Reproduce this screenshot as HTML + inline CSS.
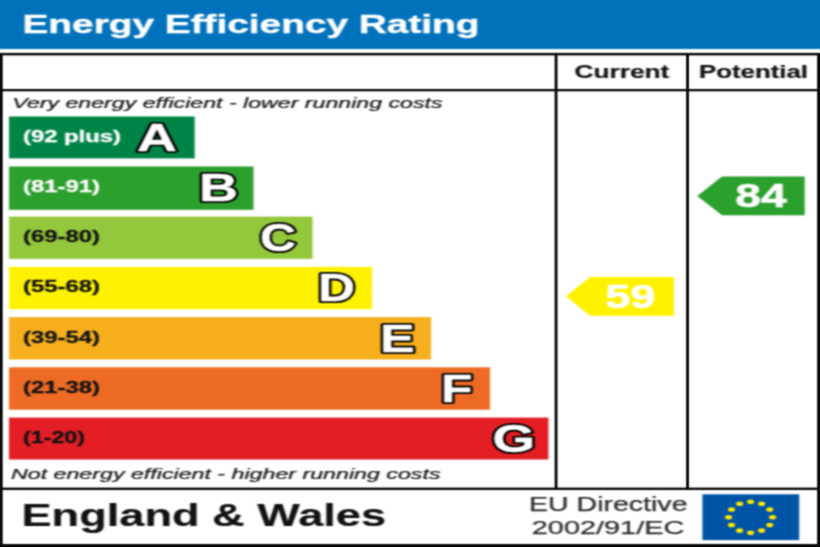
<!DOCTYPE html>
<html><head><meta charset="utf-8">
<style>
html,body{margin:0;padding:0;background:#fff;}
svg{display:block;}
text{font-family:"Liberation Sans",sans-serif;}
.b{font-weight:bold;}
.i{font-style:italic;}
</style></head>
<body>
<svg width="820" height="547" viewBox="0 0 820 547">
<defs><filter id="bl" filterUnits="userSpaceOnUse" x="-20" y="-20" width="860" height="587" color-interpolation-filters="sRGB"><feConvolveMatrix order="5 3" kernelMatrix="1 4 6 4 1 2 8 12 8 2 1 4 6 4 1" divisor="64" edgeMode="duplicate" preserveAlpha="true"/></filter><filter id="bl2" filterUnits="userSpaceOnUse" x="-20" y="-20" width="860" height="587" color-interpolation-filters="sRGB"><feConvolveMatrix order="3 3" kernelMatrix="1 2 1 2 6 2 1 2 1" divisor="18" edgeMode="duplicate" preserveAlpha="false"/></filter></defs>
<g filter="url(#bl)">
<rect x="-20" y="-20" width="860" height="587" fill="#fff"/>
<!-- header -->
<rect x="-20" y="-20" width="860" height="69" fill="#0072bc"/>
<text class="b" x="22.5" y="33.3" font-size="26.5" fill="#fff" stroke="#fff" stroke-width="0.4" textLength="457" lengthAdjust="spacingAndGlyphs">Energy Efficiency Rating</text>
<!-- col headers -->
<text class="b" x="574.4" y="77.8" font-size="17.5" fill="#111" stroke="#111" stroke-width="0.2" textLength="95" lengthAdjust="spacingAndGlyphs">Current</text>
<text class="b" x="699" y="77.8" font-size="17.5" fill="#111" stroke="#111" stroke-width="0.2" textLength="109" lengthAdjust="spacingAndGlyphs">Potential</text>
<!-- captions -->
<text class="i" x="12.3" y="107.5" font-size="14.1" fill="#111" stroke="#111" stroke-width="0.2" textLength="430.3" lengthAdjust="spacingAndGlyphs">Very energy efficient - lower running costs</text>
<text class="i" x="11" y="478.5" font-size="14.1" fill="#111" stroke="#111" stroke-width="0.2" textLength="429.5" lengthAdjust="spacingAndGlyphs">Not energy efficient - higher running costs</text>
<!-- bars -->
<rect x="9" y="116.5" width="185.7" height="41.9" fill="#008446"/>
<rect x="9" y="166.5" width="244.5" height="43.3" fill="#2ca02c"/>
<rect x="9" y="216.6" width="303.5" height="42.3" fill="#93c83c"/>
<rect x="9" y="266.9" width="363.0" height="42.3" fill="#fff200"/>
<rect x="9" y="317.1" width="422.0" height="42.4" fill="#f7af1d"/>
<rect x="9" y="367.3" width="481.0" height="42.4" fill="#ed6b24"/>
<rect x="9" y="417.6" width="539.4" height="41.9" fill="#e31e24"/>
<!-- range labels -->
<g class="b" font-size="16.5">
<text x="23" y="142.0" fill="#fff" stroke="#fff" stroke-width="0.3" textLength="98" lengthAdjust="spacingAndGlyphs">(92 plus)</text>
<text x="23" y="192.1" fill="#fff" stroke="#fff" stroke-width="0.3" textLength="77" lengthAdjust="spacingAndGlyphs">(81-91)</text>
<text x="23" y="242.2" fill="#111" stroke="#111" stroke-width="0.3" textLength="77" lengthAdjust="spacingAndGlyphs">(69-80)</text>
<text x="23" y="292.3" fill="#111" stroke="#111" stroke-width="0.3" textLength="77" lengthAdjust="spacingAndGlyphs">(55-68)</text>
<text x="23" y="342.5" fill="#111" stroke="#111" stroke-width="0.3" textLength="77" lengthAdjust="spacingAndGlyphs">(39-54)</text>
<text x="23" y="392.8" fill="#111" stroke="#111" stroke-width="0.3" textLength="77" lengthAdjust="spacingAndGlyphs">(21-38)</text>
<text x="23" y="443.1" fill="#111" stroke="#111" stroke-width="0.3" textLength="62" lengthAdjust="spacingAndGlyphs">(1-20)</text>
</g>
<!-- letters -->
<g class="b" font-size="38.6" fill="#000" stroke="#000" stroke-width="4.2" stroke-linejoin="round">
<text transform="translate(136.9,151.0) scale(1.430,1)">A</text>
<text transform="translate(199.1,201.1) scale(1.400,1)">B</text>
<text transform="translate(260.0,251.2) scale(1.294,1)">C</text>
<text transform="translate(318.1,301.1) scale(1.327,1)">D</text>
<text transform="translate(380.1,352.0) scale(1.352,1)">E</text>
<text transform="translate(440.9,402.2) scale(1.336,1)">F</text>
<text transform="translate(492.6,452.3) scale(1.423,1)">G</text>
</g>
<g class="b" font-size="38.6" fill="#fff" stroke="#fff" stroke-width="0.4" stroke-linejoin="round">
<text transform="translate(136.9,151.0) scale(1.430,1)">A</text>
<text transform="translate(199.1,201.1) scale(1.400,1)">B</text>
<text transform="translate(260.0,251.2) scale(1.294,1)">C</text>
<text transform="translate(318.1,301.1) scale(1.327,1)">D</text>
<text transform="translate(380.1,352.0) scale(1.352,1)">E</text>
<text transform="translate(440.9,402.2) scale(1.336,1)">F</text>
<text transform="translate(492.6,452.3) scale(1.423,1)">G</text>
</g>
<!-- arrows -->
<polygon points="566,296.3 590,277 674,277 674,315.7 590,315.7" fill="#fff200"/>
<text class="b" x="605.2" y="307.5" font-size="33.5" fill="#fff" stroke="#fff" stroke-width="0.5" textLength="50.3" lengthAdjust="spacingAndGlyphs">59</text>
<polygon points="697.3,196 722,176.5 804.7,176.5 804.7,215.2 722,215.2" fill="#2ca02c"/>
<text class="b" x="735.3" y="206.8" font-size="32.8" fill="#fff" stroke="#fff" stroke-width="0.5" textLength="51.3" lengthAdjust="spacingAndGlyphs">84</text>
<!-- footer -->
<text class="b" x="21.5" y="526.3" font-size="30.7" fill="#111" stroke="#111" stroke-width="0.15" textLength="364.5" lengthAdjust="spacingAndGlyphs">England &amp; Wales</text>
<text x="529" y="511" font-size="20" fill="#2a2a2a" stroke="#2a2a2a" stroke-width="0.25" textLength="158.5" lengthAdjust="spacingAndGlyphs">EU Directive</text>
<text x="531.8" y="534.4" font-size="19" fill="#2a2a2a" stroke="#2a2a2a" stroke-width="0.25" textLength="152.5" lengthAdjust="spacingAndGlyphs">2002/91/EC</text>
<!-- flag -->
<rect x="702.4" y="494.3" width="96.8" height="45.8" fill="#0054a6"/>
<g fill="#ffe600">
<ellipse cx="750.6" cy="501.7" rx="3.5" ry="2.3"/>
<ellipse cx="761.6" cy="503.8" rx="3.5" ry="2.3"/>
<ellipse cx="769.7" cy="509.5" rx="3.5" ry="2.3"/>
<ellipse cx="772.6" cy="517.2" rx="3.5" ry="2.3"/>
<ellipse cx="769.7" cy="525.0" rx="3.5" ry="2.3"/>
<ellipse cx="761.6" cy="530.6" rx="3.5" ry="2.3"/>
<ellipse cx="750.6" cy="532.7" rx="3.5" ry="2.3"/>
<ellipse cx="739.6" cy="530.6" rx="3.5" ry="2.3"/>
<ellipse cx="731.5" cy="525.0" rx="3.5" ry="2.3"/>
<ellipse cx="728.6" cy="517.2" rx="3.5" ry="2.3"/>
<ellipse cx="731.5" cy="509.5" rx="3.5" ry="2.3"/>
<ellipse cx="739.6" cy="503.8" rx="3.5" ry="2.3"/>
</g>
</g>
<!-- frame -->
<g filter="url(#bl2)">
<rect x="-20" y="52.9" width="860" height="2.5" fill="#0a0a0a"/>
<rect x="-20" y="89" width="860" height="2.3" fill="#0a0a0a"/>
<rect x="-20" y="487.6" width="860" height="2.4" fill="#0a0a0a"/>
<rect x="-20" y="544" width="860" height="23" fill="#0a0a0a"/>
<rect x="-20" y="53" width="22.7" height="514" fill="#0a0a0a"/>
<rect x="817.1" y="53" width="23" height="514" fill="#0a0a0a"/>
<rect x="554.6" y="53" width="2.9" height="436" fill="#0a0a0a"/>
<rect x="686.1" y="53" width="2.9" height="436" fill="#0a0a0a"/>
</g>
</svg>
</body></html>
